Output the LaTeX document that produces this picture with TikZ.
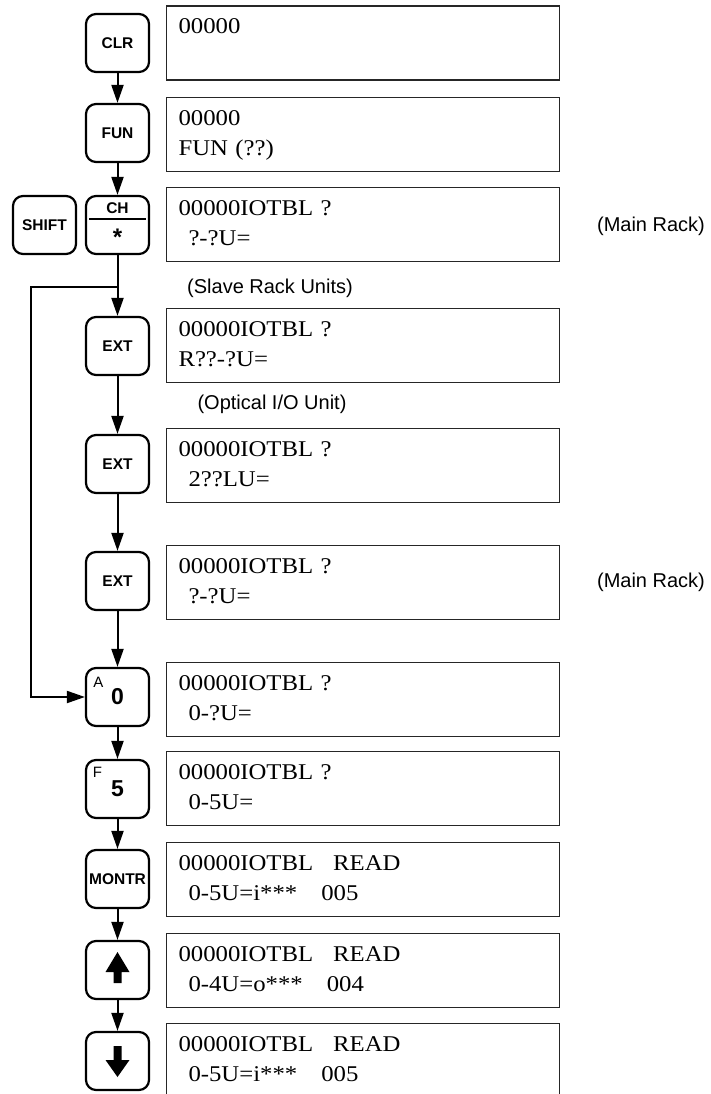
\documentclass[tikz,border=0pt]{standalone}
\usepackage{fontspec}
\usetikzlibrary{arrows.meta}
\newfontfamily\lcdfont[FakeStretch=1.1]{Liberation Serif}
\newfontfamily\keyfont{Liberation Sans}
\newcommand{\lcdtext}[2]{\strut#1\\\strut#2}
\newcommand{\ind}{\hspace*{10pt}}
\newcommand{\gap}{\hspace*{20pt}}
\newcommand{\gapb}{\hspace*{24pt}}
\begin{document}
\begin{tikzpicture}[x=1pt,y=-1pt,
  key/.style={draw,line width=2.2pt,rounded corners=10pt,minimum width=63pt,minimum height=58pt,inner sep=0pt,font=\keyfont\bfseries\fontsize{15.5}{18}\selectfont},
  bigkey/.style={key,font=\keyfont\bfseries\fontsize{23}{26}\selectfont},
  keysup/.style={inner sep=0pt,font=\keyfont\fontsize{15}{17}\selectfont},
  lcd/.style={draw=black!85,line width=1.3pt,minimum width=393pt,minimum height=74pt,text width=369pt,inner xsep=12pt,inner ysep=3pt,align=left,font=\lcdfont\fontsize{22.5}{30}\selectfont},
  note/.style={font=\keyfont\fontsize{20}{24}\selectfont},
  flow/.style={line width=2pt,-{Triangle[length=18pt,width=12pt]}}]
\useasboundingbox (0,0) rectangle (710,1094);
\node[key] (clr) at (117.5,43) {CLR};
\node[key] (fun) at (117.5,133) {FUN};
\node[key] (ch) at (117.5,225) {};
\node[key] (shift) at (44.5,225) {SHIFT};
\node[key] (ext1) at (117.5,346) {EXT};
\node[key] (ext2) at (117.5,464) {EXT};
\node[key] (ext3) at (117.5,581) {EXT};
\node[bigkey] (a0) at (117.5,697) {0};
\node[bigkey] (f5) at (117.5,789) {5};
\node[key] (montr) at (117.5,879) {MONTR};
\node[key] (up) at (117.5,970) {};
\node[key] (down) at (117.5,1061) {};
\node[keysup,font=\keyfont\bfseries\fontsize{15.5}{18}\selectfont] (chlabel) at ([shift={(0,-16.5)}]ch.center) {CH};
\draw[line width=1.5pt,shift={(ch.center)}] (-28.5,-6) -- (28.5,-6);
\node[keysup,font=\keyfont\bfseries\fontsize{24}{28}\selectfont] (chstar) at ([shift={(0,12)}]ch.center) {*};
\node[keysup] (a0sup) at ([shift={(-19,-14.5)}]a0.center) {A};
\node[keysup] (f5sup) at ([shift={(-20,-17)}]f5.center) {F};
\fill[shift={(up.center)}] (0,-18) -- (12,2) -- (4,2) -- (4,13) -- (-4,13) -- (-4,2) -- (-12,2) -- cycle;
\fill[shift={(down.center)}] (0,16) -- (12,-1) -- (4,-1) -- (4,-15) -- (-4,-15) -- (-4,-1) -- (-12,-1) -- cycle;
\node[lcd] (d1) at (363,43) {\lcdtext{00000}{}};
\node[lcd] (d2) at (363,134.5) {\lcdtext{00000}{FUN (??)}};
\node[lcd] (d3) at (363,224.5) {\lcdtext{00000IOTBL ?}{\ind?-?U=}};
\node[lcd] (d4) at (363,345.5) {\lcdtext{00000IOTBL ?}{R??-?U=}};
\node[lcd] (d5) at (363,465.5) {\lcdtext{00000IOTBL ?}{\ind2??LU=}};
\node[lcd] (d6) at (363,582.5) {\lcdtext{00000IOTBL ?}{\ind?-?U=}};
\node[lcd] (d7) at (363,699.5) {\lcdtext{00000IOTBL ?}{\ind0-?U=}};
\node[lcd] (d8) at (363,788.5) {\lcdtext{00000IOTBL ?}{\ind0-5U=}};
\node[lcd] (d9) at (363,879.5) {\lcdtext{00000IOTBL\gap READ}{\ind0-5U=i***\gapb 005}};
\node[lcd] (d10) at (363,970.5) {\lcdtext{00000IOTBL\gap READ}{\ind0-4U=o***\gapb 004}};
\node[lcd] (d11) at (363,1060.5) {\lcdtext{00000IOTBL\gap READ}{\ind0-5U=i***\gapb 005}};
\node[note] (mainrack) at (651,226) {(Main Rack)};
\node[note] (slaverack) at (270,288) {(Slave Rack Units)};
\node[note] (optical) at (272,404) {(Optical I/O Unit)};
\node[note] (mainrackb) at (651,582) {(Main Rack)};
\coordinate (turn) at (31,287);
\draw[flow] (clr) -- (fun);
\draw[flow] (fun) -- (ch);
\draw[flow] (ch) -- (ext1);
\draw[flow] (ch.south |- turn) -- (turn) |- (a0);
\draw[flow] (ext1) -- (ext2);
\draw[flow] (ext2) -- (ext3);
\draw[flow] (ext3) -- (a0);
\draw[flow] (a0) -- (f5);
\draw[flow] (f5) -- (montr);
\draw[flow] (montr) -- (up);
\draw[flow] (up) -- (down);
\end{tikzpicture}
\end{document}
